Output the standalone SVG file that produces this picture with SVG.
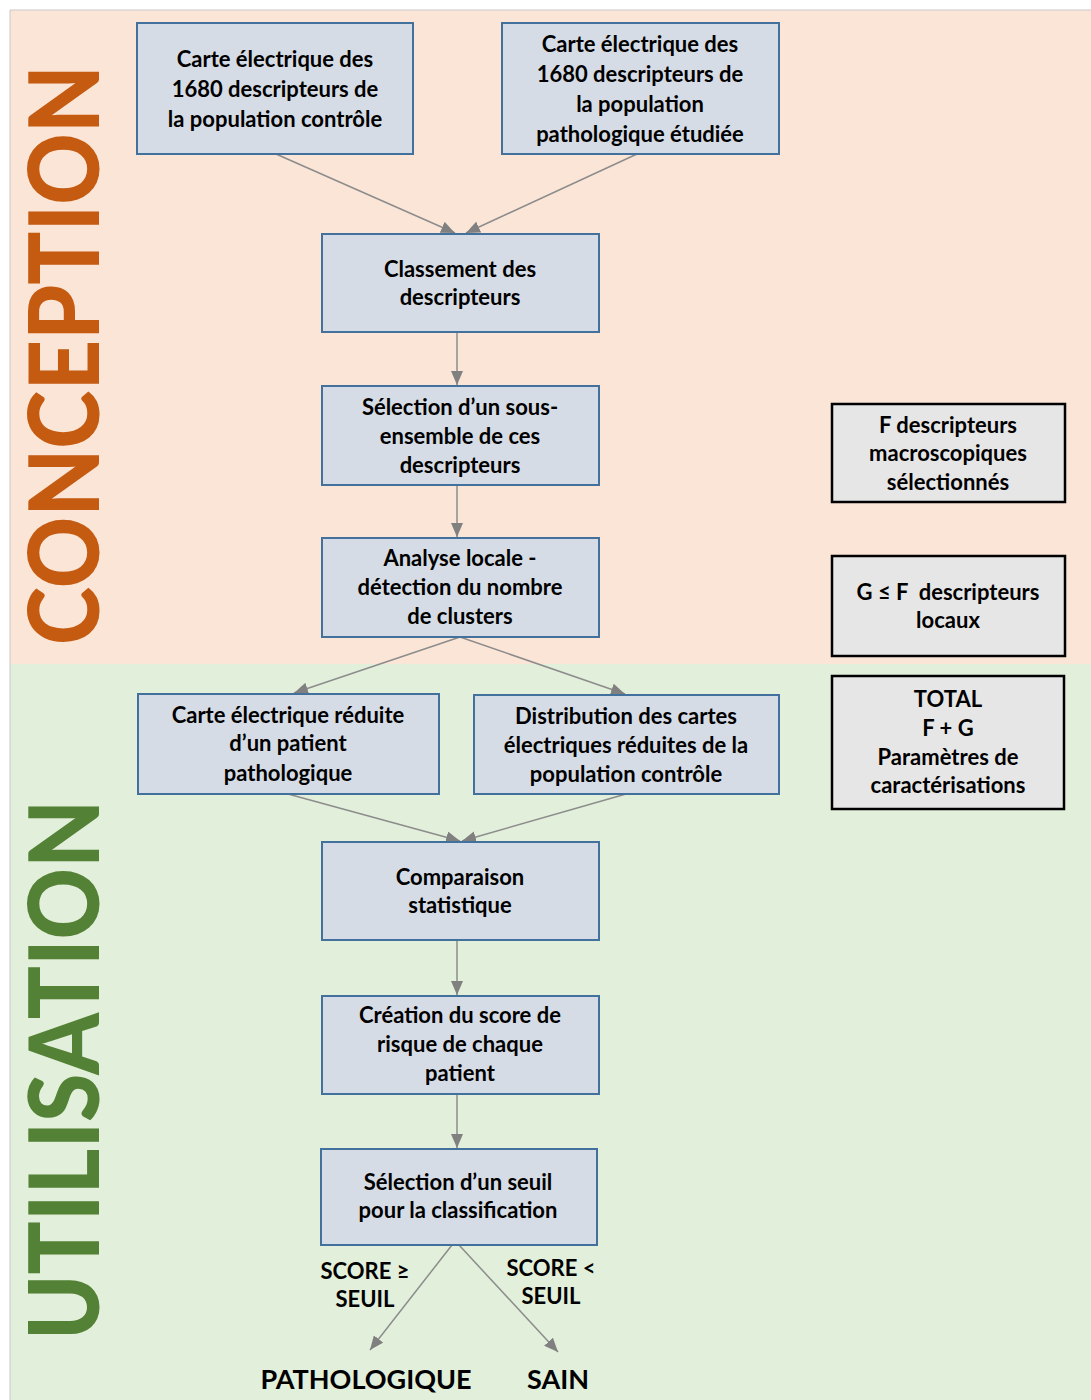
<svg xmlns="http://www.w3.org/2000/svg" width="1091" height="1400" viewBox="0 0 1091 1400">
<style>
.bg{stroke:none}
.box{fill:#D6DCE5;stroke:#41719C;stroke-width:2}
.side{fill:#E7E6E6;stroke:#000;stroke-width:2.5}
.t{font-family:Lato,"Open Sans","Liberation Sans",sans-serif;font-weight:bold;font-size:22px;fill:#000;text-anchor:middle}
.big{font-family:Lato,"Open Sans","Liberation Sans",sans-serif;font-weight:900;font-size:98px;text-anchor:middle}
.out{font-family:Lato,"Open Sans","Liberation Sans",sans-serif;font-weight:bold;font-size:27px;fill:#000;text-anchor:middle}
.c{stroke:#8C8C8C;stroke-width:1.5;fill:none;marker-end:url(#ah)}
</style>
<defs>
<marker id="ah" viewBox="0 0 14 12" refX="14" refY="6" markerWidth="14" markerHeight="12" markerUnits="userSpaceOnUse" orient="auto">
<path d="M0,0 L14,6 L0,12 Z" fill="#808080"/>
</marker>
</defs>
<rect width="1091" height="1400" fill="#fff"/>
<rect class="bg" x="10" y="10" width="1081" height="654" fill="#FBE5D6"/>
<rect class="bg" x="10" y="664" width="1081" height="736" fill="#E2EFDA"/>
<line x1="10" y1="10" x2="1091" y2="10" stroke="#C9C9C9" stroke-width="1"/>
<line x1="10" y1="10" x2="10" y2="1400" stroke="#C9C9C9" stroke-width="1"/>
<text class="big" fill="#C55A11" transform="translate(99,355) rotate(-90)" textLength="580" lengthAdjust="spacingAndGlyphs">CONCEPTION</text>
<text class="big" fill="#538135" transform="translate(99,1070) rotate(-90)" textLength="540" lengthAdjust="spacingAndGlyphs">UTILISATION</text>
<g id="connectors">
<line class="c" x1="276" y1="154" x2="455" y2="233"/>
<line class="c" x1="637" y1="154" x2="466" y2="233"/>
<line class="c" x1="457" y1="332" x2="457" y2="385"/>
<line class="c" x1="457" y1="485" x2="457" y2="537"/>
<line class="c" x1="460" y1="637" x2="294" y2="693"/>
<line class="c" x1="460" y1="637" x2="625" y2="694"/>
<line class="c" x1="288" y1="794" x2="460" y2="841"/>
<line class="c" x1="626" y1="794" x2="462" y2="841"/>
<line class="c" x1="457" y1="940" x2="457" y2="995"/>
<line class="c" x1="457" y1="1094" x2="457" y2="1148"/>
<line class="c" x1="452" y1="1245" x2="370" y2="1350"/>
<line class="c" x1="459" y1="1245" x2="558" y2="1352"/>
</g>
<g id="n1"><rect class="box" x="137" y="23" width="276" height="131"/>
<text class="t" x="275" y="67">Carte électrique des</text><text class="t" x="275" y="97">1680 descripteurs de</text><text class="t" x="275" y="127">la population contrôle</text></g>
<g id="n2"><rect class="box" x="502" y="23" width="277" height="131"/>
<text class="t" x="640" y="52">Carte électrique des</text><text class="t" x="640" y="82">1680 descripteurs de</text><text class="t" x="640" y="112">la population</text><text class="t" x="640" y="142">pathologique étudiée</text></g>
<g id="n3"><rect class="box" x="322" y="234" width="277" height="98"/>
<text class="t" x="460" y="277">Classement des</text><text class="t" x="460" y="305">descripteurs</text></g>
<g id="n4"><rect class="box" x="322" y="386" width="277" height="99"/>
<text class="t" x="460" y="415">Sélection d’un sous-</text><text class="t" x="460" y="444">ensemble de ces</text><text class="t" x="460" y="473">descripteurs</text></g>
<g id="n5"><rect class="box" x="322" y="538" width="277" height="99"/>
<text class="t" x="460" y="566">Analyse locale -</text><text class="t" x="460" y="595">détection du nombre</text><text class="t" x="460" y="624">de clusters</text></g>
<g id="n6"><rect class="box" x="138" y="694" width="301" height="100"/>
<text class="t" x="288" y="723">Carte électrique réduite</text><text class="t" x="288" y="751">d’un patient</text><text class="t" x="288" y="781">pathologique</text></g>
<g id="n7"><rect class="box" x="474" y="695" width="305" height="99"/>
<text class="t" x="626" y="724">Distribution des cartes</text><text class="t" x="626" y="753">électriques réduites de la</text><text class="t" x="626" y="782">population contrôle</text></g>
<g id="n8"><rect class="box" x="322" y="842" width="277" height="98"/>
<text class="t" x="460" y="885">Comparaison</text><text class="t" x="460" y="913">statistique</text></g>
<g id="n9"><rect class="box" x="322" y="996" width="277" height="98"/>
<text class="t" x="460" y="1023">Création du score de</text><text class="t" x="460" y="1052">risque de chaque</text><text class="t" x="460" y="1081">patient</text></g>
<g id="n10"><rect class="box" x="321" y="1149" width="276" height="96"/>
<text class="t" x="458" y="1190">Sélection d’un seuil</text><text class="t" x="458" y="1218">pour la classification</text></g>
<g id="s1"><rect class="side" x="832" y="404" width="233" height="98"/>
<text class="t" x="948" y="433">F descripteurs</text><text class="t" x="948" y="461">macroscopiques</text><text class="t" x="948" y="490">sélectionnés</text></g>
<g id="s2"><rect class="side" x="832" y="556" width="233" height="100"/>
<text class="t" x="948" y="600" style="white-space:pre">G ≤ F  descripteurs</text><text class="t" x="948" y="628">locaux</text></g>
<g id="s3"><rect class="side" x="832" y="676" width="232" height="133"/>
<text class="t" x="948" y="707">TOTAL</text><text class="t" x="948" y="736">F + G</text><text class="t" x="948" y="765">Paramètres de</text><text class="t" x="948" y="793">caractérisations</text></g>
<g id="labels">
<text class="t" x="365" y="1279">SCORE ≥</text><text class="t" x="365" y="1307">SEUIL</text>
<text class="t" x="551" y="1276">SCORE &lt;</text><text class="t" x="551" y="1304">SEUIL</text>
<text class="out" x="366" y="1389">PATHOLOGIQUE</text><text class="out" x="558" y="1389">SAIN</text>
</g>
</svg>
